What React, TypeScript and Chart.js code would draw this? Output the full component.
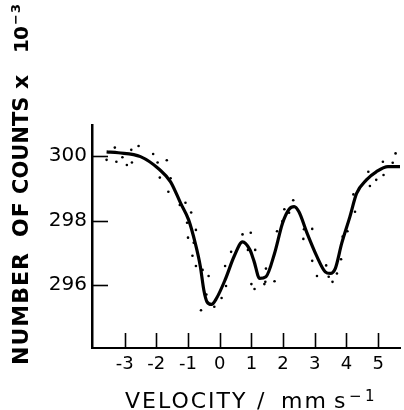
import { useEffect, useRef } from 'react';
import { Chart, registerables } from 'chart.js';

Chart.register(...registerables);

// Axis ticks
const xTicks = [-3, -2, -1, 0, 1, 2, 3, 4, 5];
const yTicks = [296, 298, 300];

// Fitted curve (velocity mm/s, counts x 10^-3)
const fitVelocity = [-3.57, -3.2, -2.5, -1.9, -1.55, -1.23, -0.98, -0.77, -0.61, -0.5, -0.4, -0.26, -0.1, 0.17, 0.46, 0.72, 0.95, 1.08, 1.26, 1.46, 1.73, 1.98, 2.19, 2.35, 2.5, 2.76, 3.07, 3.33, 3.49, 3.65, 3.85, 4.11, 4.32, 4.63, 4.94, 5.31, 5.69];
const fitCounts = [300.13, 300.1, 299.98, 299.58, 299.2, 298.53, 298.02, 297.29, 296.57, 295.84, 295.48, 295.4, 295.59, 296.16, 296.9, 297.34, 297.1, 296.75, 296.21, 296.26, 296.98, 297.91, 298.35, 298.43, 298.27, 297.6, 296.88, 296.41, 296.36, 296.52, 297.29, 298.12, 298.84, 299.26, 299.51, 299.67, 299.67];

// Measured points
const dotVelocity = [-3.57, -3.31, -3.26, -3.07, -2.93, -2.79, -2.77, -2.56, -2.1, -1.96, -1.67, -1.89, -1.55, -1.62, -1.26, -1.08, -0.9, -1.03, -0.75, -1.0, -0.82, -0.86, -0.75, -0.54, -0.35, -0.42, -0.59, -0.17, 0.06, 0.17, 0.2, 0.36, 0.72, 0.98, 1.12, 1.0, 1.1, 0.89, 1.41, 1.46, 1.44, 1.73, 1.81, 1.98, 2.04, 2.19, 2.32, 2.66, 2.92, 2.64, 2.92, 3.07, 3.36, 3.44, 3.56, 3.7, 3.83, 3.88, 4.03, 4.22, 4.27, 4.69, 4.74, 4.94, 5.15, 5.17, 5.46, 5.55];
const dotCounts = [299.88, 300.26, 299.82, 299.96, 299.72, 300.19, 299.8, 300.31, 300.06, 299.8, 299.87, 299.33, 299.31, 298.89, 298.48, 298.55, 298.25, 297.93, 297.71, 297.47, 297.31, 296.91, 296.59, 296.47, 296.28, 295.71, 295.22, 295.33, 295.6, 296.59, 295.97, 297.03, 297.57, 297.62, 297.09, 296.03, 295.88, 297.09, 296.03, 296.51, 296.1, 296.12, 297.67, 297.98, 298.35, 298.24, 298.63, 297.73, 297.74, 297.43, 296.75, 296.28, 296.61, 296.26, 296.1, 296.36, 296.8, 297.5, 297.67, 298.81, 298.27, 299.51, 299.07, 299.26, 299.82, 299.41, 299.79, 300.08];

const FONT = '"DejaVu Sans", sans-serif';

const innerTicksAndTitles = {
  id: 'innerTicksAndTitles',
  afterDraw(chart: any) {
    const ctx = chart.ctx as CanvasRenderingContext2D;
    const { left, bottom } = chart.chartArea;
    const xs = chart.scales.x;
    const ys = chart.scales.y;
    ctx.save();
    ctx.strokeStyle = '#000';
    ctx.lineWidth = 1.6;
    xTicks.forEach((v) => {
      const px = Math.round(xs.getPixelForValue(v)) + 0.5;
      ctx.beginPath();
      ctx.moveTo(px, bottom);
      ctx.lineTo(px, bottom - 15);
      ctx.stroke();
    });
    yTicks.forEach((v) => {
      const py = Math.round(ys.getPixelForValue(v)) + 0.5;
      ctx.beginPath();
      ctx.moveTo(left, py);
      ctx.lineTo(left + 16, py);
      ctx.stroke();
    });

    ctx.fillStyle = '#000';
    ctx.textBaseline = 'alphabetic';
    ctx.textAlign = 'left';

    // X title
    (ctx as any).letterSpacing = '2px';
    ctx.font = '22px ' + FONT;
    ctx.fillText('VELOCITY', 125, 408);
    ctx.fillText('/', 257, 408);
    ctx.fillText('mm', 281, 408);
    ctx.fillText('s', 334, 408);
    (ctx as any).letterSpacing = '0px';
    ctx.font = '15px ' + FONT;
    ctx.fillText('\u2212', 349, 401);
    ctx.fillText('1', 365, 401);

    // Y title (rotated)
    ctx.translate(28, 0);
    ctx.rotate(-Math.PI / 2);
    (ctx as any).letterSpacing = '1px';
    ctx.font = 'bold 22px ' + FONT;
    ctx.fillText('NUMBER', -365, 0);
    ctx.fillText('OF', -237, 0);
    (ctx as any).letterSpacing = '0px';
    ctx.font = 'bold 21px ' + FONT;
    ctx.fillText('COUNTS', -194, 0);
    ctx.font = 'bold 22px ' + FONT;
    ctx.fillText('x', -89, 0);
    (ctx as any).letterSpacing = '-1px';
    ctx.font = 'bold 20px ' + FONT;
    ctx.fillText('10', -53, 0);
    (ctx as any).letterSpacing = '0px';
    ctx.font = 'bold 13px ' + FONT;
    ctx.fillText('\u2212', -25, -8);
    ctx.fillText('3', -13, -8);
    ctx.restore();
  },
};

export default function App() {
  const ref = useRef<HTMLCanvasElement | null>(null);

  useEffect(() => {
    if (!ref.current) return;
    const chart = new Chart(ref.current, {
      type: 'scatter',
      data: {
        datasets: [
          {
            label: 'fit',
            data: fitVelocity.map((v, i) => ({ x: v, y: fitCounts[i] })),
            showLine: true,
            borderColor: '#000',
            borderWidth: 3.2,
            pointRadius: 0,
            cubicInterpolationMode: 'monotone',
          } as any,
          {
            label: 'data',
            data: dotVelocity.map((v, i) => ({ x: v, y: dotCounts[i] })),
            showLine: false,
            pointRadius: 1.3,
            pointBorderWidth: 0,
            backgroundColor: '#000',
            borderColor: '#000',
          },
        ],
      },
      options: {
        responsive: false,
        animation: false,
        layout: { padding: { top: 125, left: 0, right: 0, bottom: 0 } },
        plugins: { legend: { display: false }, tooltip: { enabled: false } },
        scales: {
          x: {
            type: 'linear',
            min: -4.03,
            max: 5.69,
            afterBuildTicks: (s: any) => {
              s.ticks = xTicks.map((v) => ({ value: v }));
            },
            afterFit: (s: any) => {
              s.height = 62;
            },
            grid: { display: false, drawTicks: false },
            border: { display: true, color: '#000', width: 2 },
            ticks: {
              color: '#000',
              font: { family: FONT, size: 18 },
              padding: 6,
              maxRotation: 0,
              autoSkip: false,
              callback: (v: any) => String(v),
            },
          },
          y: {
            type: 'linear',
            min: 294.05,
            max: 300.96,
            afterBuildTicks: (s: any) => {
              s.ticks = yTicks.map((v) => ({ value: v }));
            },
            afterFit: (s: any) => {
              s.width = 92;
            },
            grid: { display: false, drawTicks: false },
            border: { display: true, color: '#000', width: 2.5 },
            ticks: {
              color: '#000',
              font: { family: FONT, size: 20 },
              padding: 5,
              autoSkip: false,
              callback: (v: any) => String(v),
            },
          },
        },
      },
      plugins: [innerTicksAndTitles],
    });
    return () => chart.destroy();
  }, []);

  return (
    <div style={{ position: 'absolute', left: 0, top: 0, width: 404, height: 410, background: '#fff' }}>
      <canvas ref={ref} width={404} height={410} style={{ display: 'block' }} />
    </div>
  );
}
